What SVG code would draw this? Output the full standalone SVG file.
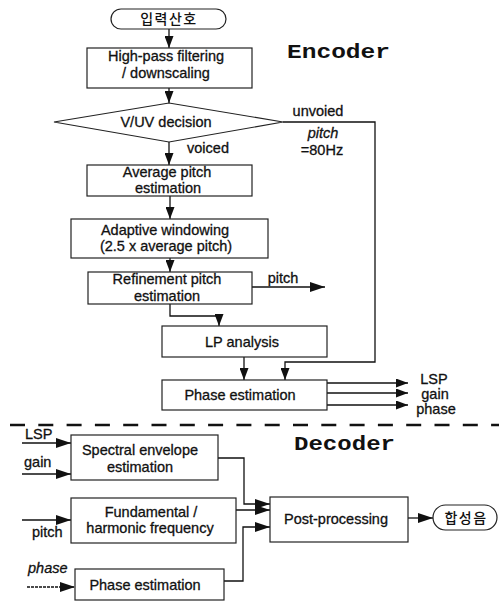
<svg xmlns="http://www.w3.org/2000/svg" width="499" height="602" viewBox="0 0 499 602">
<defs>
<style>
.box{fill:#fff;stroke:#222;stroke-width:1.2}
.t{font-family:"Liberation Sans","Noto Sans CJK KR",sans-serif;font-size:14.5px;fill:#111;stroke:#111;stroke-width:0.3;text-anchor:middle}
.l{font-family:"Liberation Sans","Noto Sans CJK KR",sans-serif;font-size:14.5px;fill:#111;stroke:#111;stroke-width:0.3}
.k{font-family:"Noto Sans CJK KR","Liberation Sans",sans-serif;font-size:14px;font-weight:500;fill:#111;text-anchor:middle;letter-spacing:1.5px}
.big{font-family:"Liberation Mono",monospace;font-weight:bold;font-size:21px;fill:#111}
.c{fill:none;stroke:#111;stroke-width:1.3}
</style>
<marker id="a" markerUnits="userSpaceOnUse" markerWidth="12" markerHeight="9" refX="12" refY="4.5" orient="auto">
<path d="M0,0 L12,4.5 L0,9 z" fill="#111"/>
</marker>
<marker id="b" markerUnits="userSpaceOnUse" markerWidth="15" markerHeight="10" refX="15" refY="5" orient="auto">
<path d="M0,0 L15,5 L0,10 z" fill="#111"/>
</marker>
</defs>
<rect width="499" height="602" fill="#fff"/>

<g id="connectors">
<path class="c" d="M169,29 V48" marker-end="url(#a)"/>
<path class="c" d="M169,88 V103" marker-end="url(#a)"/>
<path class="c" d="M169,142 V165" marker-end="url(#a)"/>
<path class="c" d="M170,196 V219" marker-end="url(#a)"/>
<path class="c" d="M170,258 V272" marker-end="url(#a)"/>
<path class="c" d="M252,287 H325" marker-end="url(#b)"/>
<path class="c" d="M170,304 V316 H219 V326" marker-end="url(#a)"/>
<path class="c" d="M244,357 V380" marker-end="url(#a)"/>
<path class="c" d="M283,122 H375 V362 H285 V380" marker-end="url(#a)"/>
<path class="c" d="M327,383 H408" marker-end="url(#a)"/>
<path class="c" d="M327,393 H408" marker-end="url(#a)"/>
<path class="c" d="M327,405 H408" marker-end="url(#a)"/>
<path d="M10,425 H499" stroke="#111" stroke-width="2.5" stroke-dasharray="15 13.3" fill="none"/>
<path class="c" d="M22,443 H71" marker-end="url(#b)"/>
<path class="c" d="M22,474 H71" marker-end="url(#b)"/>
<path class="c" d="M22,520 H71" marker-end="url(#b)"/>
<path class="c" d="M27,587 H75" stroke-dasharray="3 1" marker-end="url(#b)"/>
<path class="c" d="M218,458 H244 V504 H270" marker-end="url(#b)"/>
<path class="c" d="M236,510 H270" stroke="#666" marker-end="url(#b)"/>
<path class="c" d="M224,581 H243 V527 H270" marker-end="url(#b)"/>
<path class="c" d="M408,518 H433" marker-end="url(#b)"/>
<text class="t" x="208" y="153">voiced</text>
<text class="t" x="318" y="116">unvoied</text>
<text class="t" x="323" y="138" font-style="italic">pitch</text>
<text class="t" x="322" y="155">=80Hz</text>
<text class="t" x="283" y="283">pitch</text>
<text class="t" x="434" y="384">LSP</text>
<text class="t" x="435" y="399">gain</text>
<text class="t" x="436" y="414">phase</text>
<text class="l" x="25" y="439">LSP</text>
<text class="l" x="24" y="467">gain</text>
<text class="l" x="32" y="537">pitch</text>
<text class="l" x="28" y="573" font-style="italic">phase</text>
</g>

<g id="encoder-title"><text class="big" x="287" y="58" textLength="103" lengthAdjust="spacingAndGlyphs">Encoder</text></g>
<g id="decoder-title"><text class="big" x="294" y="450" textLength="101" lengthAdjust="spacingAndGlyphs">Decoder</text></g>

<g id="input">
<rect class="box" x="111" y="9" width="115" height="20" rx="10"/>
<text class="k" x="169" y="24">입력산호</text>
</g>
<g id="highpass">
<rect class="box" x="87" y="48" width="165" height="40"/>
<text class="t" x="166" y="61">High-pass filtering</text>
<text class="t" x="166" y="78">/ downscaling</text>
</g>
<g id="vuv">
<polygon class="box" points="54,122 169,103 283,122 169,142"/>
<text class="t" x="166" y="127">V/UV decision</text>
</g>
<g id="avgpitch">
<rect class="box" x="87" y="165" width="165" height="31"/>
<text class="t" x="167" y="177">Average pitch</text>
<text class="t" x="168" y="193">estimation</text>
</g>
<g id="window">
<rect class="box" x="71" y="219" width="197" height="39"/>
<text class="t" x="165" y="235">Adaptive windowing</text>
<text class="t" x="166" y="251">(2.5 x average pitch)</text>
</g>
<g id="refine">
<rect class="box" x="88" y="272" width="164" height="32"/>
<text class="t" x="167" y="284">Refinement pitch</text>
<text class="t" x="167" y="301">estimation</text>
</g>
<g id="lp">
<rect class="box" x="162" y="326" width="165" height="31"/>
<text class="t" x="242" y="347">LP analysis</text>
</g>
<g id="phase-enc">
<rect class="box" x="162" y="380" width="165" height="30"/>
<text class="t" x="240" y="400">Phase estimation</text>
</g>

<g id="spectral">
<rect class="box" x="71" y="435" width="147" height="45"/>
<text class="t" x="140" y="455">Spectral envelope</text>
<text class="t" x="140" y="472">estimation</text>
</g>
<g id="fundamental">
<rect class="box" x="71" y="498" width="165" height="45"/>
<text class="t" x="151" y="517">Fundamental /</text>
<text class="t" x="150" y="533">harmonic frequency</text>
</g>
<g id="phase-dec">
<rect class="box" x="75" y="569" width="149" height="31"/>
<text class="t" x="145" y="590">Phase estimation</text>
</g>
<g id="post">
<rect class="box" x="270" y="497" width="138" height="45"/>
<text class="t" x="336" y="524">Post-processing</text>
</g>
<g id="output">
<rect class="box" x="433" y="505" width="64" height="25" rx="12.5"/>
<text class="k" x="466" y="523">합성음</text>
</g>
</svg>
